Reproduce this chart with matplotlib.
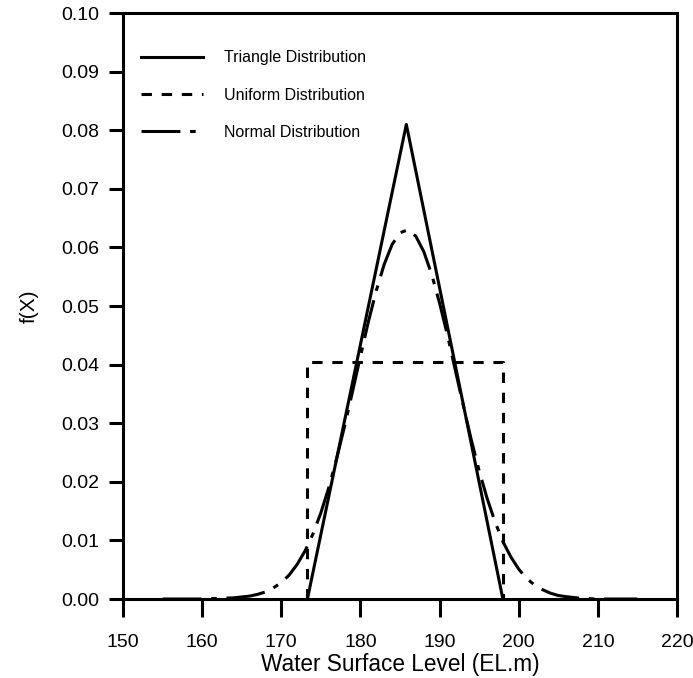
import matplotlib
matplotlib.use("Agg")
import matplotlib.pyplot as plt

plt.rcParams['font.family'] = ['Liberation Sans', 'DejaVu Sans']
plt.rcParams['lines.scale_dashes'] = False

# triangle distribution vertices
tri_x = [173.3, 185.8, 198.0]
tri_y = [0.0, 0.081, 0.0]

# uniform distribution outline
uni_x = [173.3, 173.3, 198.0, 198.0]
uni_y = [0.0, 0.0405, 0.0405, 0.0]

# normal distribution
norm_x = [155, 160, 162, 164, 166, 167, 168, 169, 170, 171, 172, 173, 174, 175, 176,
          177, 178, 179, 180, 181, 182, 183, 184, 185, 186, 187, 188, 189, 190, 191,
          192, 193, 194, 195, 196, 197, 198, 199, 200, 201, 202, 203, 204, 205, 206,
          208, 210, 215]
norm_y = [0.0, 0.0, 0.0001, 0.0002, 0.0005, 0.0008, 0.0012, 0.0019, 0.0028, 0.0041,
          0.0059, 0.0082, 0.0111, 0.0147, 0.0190, 0.0240, 0.0295, 0.0354, 0.0414,
          0.0473, 0.0526, 0.0571, 0.0605, 0.0625, 0.0630, 0.0619, 0.0593, 0.0554,
          0.0505, 0.0450, 0.0390, 0.0330, 0.0272, 0.0219, 0.0172, 0.0132, 0.0098,
          0.0072, 0.0051, 0.0035, 0.0024, 0.0016, 0.0010, 0.0006, 0.0004, 0.0001,
          0.0, 0.0]

xticks = [150, 160, 170, 180, 190, 200, 210, 220]
yticks = [0.00, 0.01, 0.02, 0.03, 0.04, 0.05, 0.06, 0.07, 0.08, 0.09, 0.10]

fig = plt.figure(figsize=(6.93, 6.78), dpi=100)
ax = fig.add_axes([0.1775, 0.1165, 0.7994, 0.8643])

lw = 2.2
ax.plot(tri_x, tri_y, color='black', lw=lw, label='Triangle Distribution')
ax.plot(uni_x, uni_y, color='black', lw=lw, linestyle=(0, (7.5, 7)),
        label='Uniform Distribution')
ax.plot(norm_x, norm_y, color='black', lw=lw, linestyle=(0, (28, 7, 4, 7)),
        label='Normal Distribution')

ax.set_xlim(150, 220)
ax.set_ylim(0, 0.10)
ax.set_xticks(xticks)
ax.set_yticks(yticks)
ax.set_yticklabels([f"{v:.2f}" for v in yticks])

for s in ax.spines.values():
    s.set_linewidth(2.2)
ax.tick_params(axis='both', direction='out', width=2.2, labelsize=14)
ax.tick_params(axis='x', length=13, pad=12)
ax.tick_params(axis='y', length=10, pad=7)

ax.set_xlabel("Water Surface Level (EL.m)", fontsize=16.3, labelpad=1.5)
ax.set_ylabel("f(X)", fontsize=15, labelpad=16)

ax.legend(loc='upper left', bbox_to_anchor=(0.006, 0.961), frameon=False,
          fontsize=11.5, handlelength=3.9, handletextpad=1.3, labelspacing=1.4)

fig.savefig("out.png", dpi=100)
